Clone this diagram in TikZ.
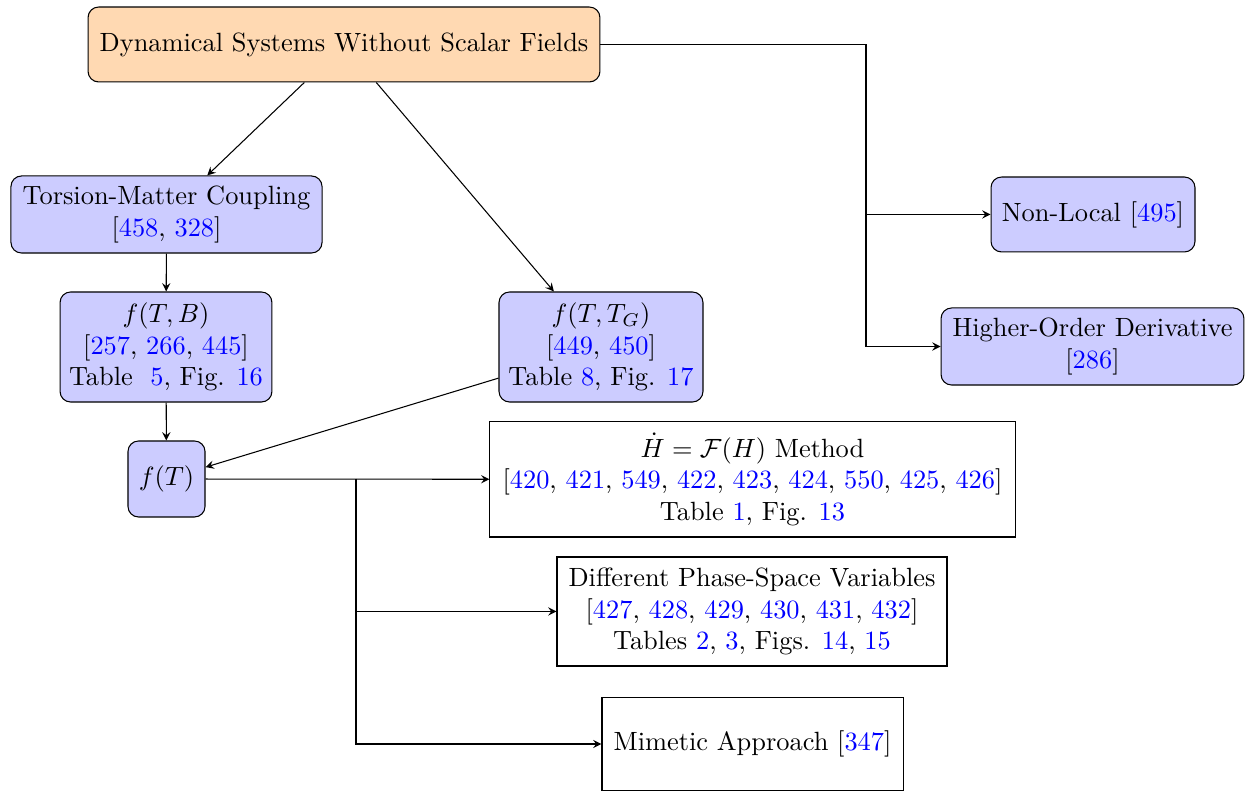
\documentclass[tikz,border=0pt]{standalone}
\usepackage{amsmath}
\newcommand{\rf}[1]{\textcolor{blue}{#1}}
\begin{document}
\begin{tikzpicture}[x=0.379pt,y=-0.379pt,
  every node/.style={align=center, font=\normalsize, inner sep=2pt},
  topbox/.style={draw, rounded corners=4pt, fill=orange!30},
  bluebox/.style={draw, rounded corners=4pt, fill=blue!20},
  plainbox/.style={draw, rectangle},
  conn/.style={-stealth, line width=0.4pt}]
\useasboundingbox (0,0) rectangle (1249,792);

% category boxes
\node[topbox, minimum width=194pt, minimum height=28.4pt] (top) at (344,44.5) {Dynamical Systems Without Scalar Fields};
\node[bluebox, minimum width=117.9pt, minimum height=29.2pt] (tmc) at (166.5,214.5) {Torsion-Matter Coupling\\{}[\rf{458}, \rf{328}]};
\node[bluebox, minimum width=80.3pt, minimum height=41.7pt] (ftb) at (166,347) {$f(T,B)$\\{}[\rf{257}, \rf{266}, \rf{445}]\\Table~ \rf{5}, Fig. \rf{16}};
\node[bluebox, minimum width=77.3pt, minimum height=41.7pt] (ftg) at (601,347) {$f(T,T_G)$\\{}[\rf{449}, \rf{450}]\\Table \rf{8}, Fig. \rf{17}};
\node[bluebox, minimum width=29.2pt, minimum height=28.8pt] (ft) at (166.5,479) {$f(T)$};
\node[bluebox, minimum width=77.3pt, minimum height=28.4pt] (nl) at (1093,214.5) {Non-Local [\rf{495}]};
\node[bluebox, minimum width=114.8pt, minimum height=29.2pt] (hod) at (1092.5,346.5) {Higher-Order Derivative\\{}[\rf{286}]};

% method boxes
\node[plainbox, minimum width=199pt, minimum height=43.6pt] (hdot) at (752.5,479.5) {$\dot{H}=\mathcal{F}(H)$ Method\\{}[\rf{420}, \rf{421}, \rf{549}, \rf{422}, \rf{423}, \rf{424}, \rf{550}, \rf{425}, \rf{426}]\\Table \rf{1}, Fig. \rf{13}};
\node[plainbox, minimum width=147.8pt, minimum height=41.3pt] (dpv) at (752,611.5) {Different Phase-Space Variables\\{}[\rf{427}, \rf{428}, \rf{429}, \rf{430}, \rf{431}, \rf{432}]\\Tables \rf{2}, \rf{3}, Figs. \rf{14}, \rf{15}};
\node[plainbox, minimum width=114.1pt, minimum height=34.9pt] (mim) at (752.5,744) {Mimetic Approach [\rf{347}]};

% junction points
\coordinate (jr) at (866,44.5);
\coordinate (jb) at (356,479);

% connectors
\draw[conn] (top) -- (tmc);
\draw[conn] (top) -- (ftg);
\draw[conn] (tmc) -- (ftb);
\draw[conn] (ftb) -- (ft);
\draw[conn] (ftg) -- (ft);
\draw[conn] (ft) -- (hdot);
\draw[conn] (jb) |- (dpv.west);
\draw[conn] (jb) |- (mim.west);
\draw (top.east) -- (jr);
\draw[conn] (jr) |- (hod.west);
\draw[conn] (jr |- nl.west) -- (nl.west);
\end{tikzpicture}
\end{document}
